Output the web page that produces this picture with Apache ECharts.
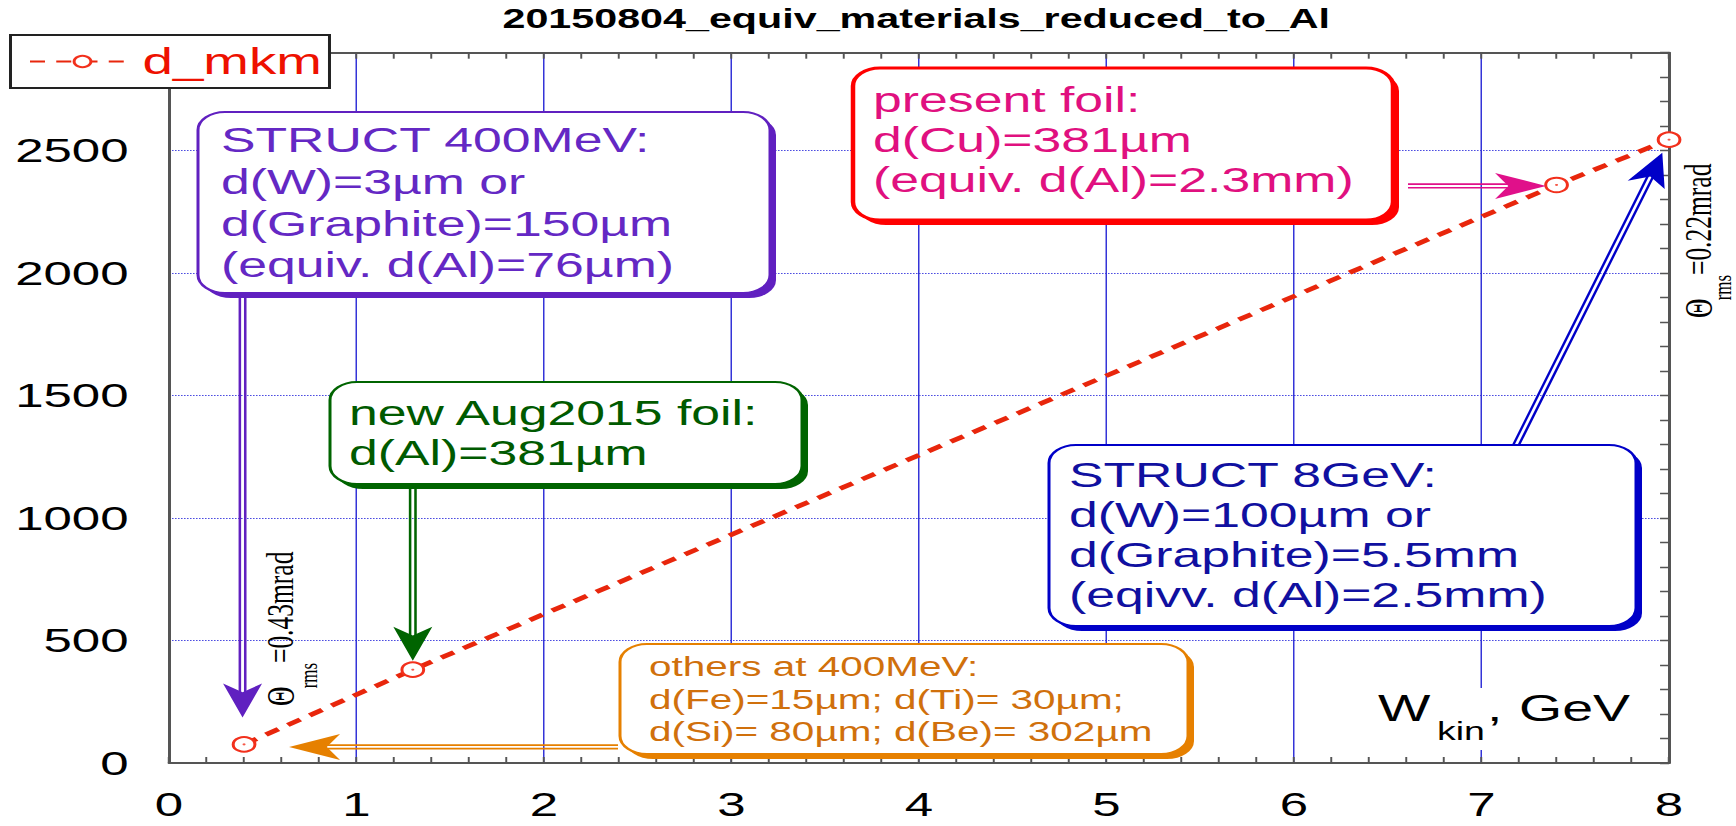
<!DOCTYPE html>
<html>
<head>
<meta charset="utf-8">
<title>20150804_equiv_materials_reduced_to_Al</title>
<script src="https://cdn.jsdelivr.net/npm/echarts@6/dist/echarts.min.js"></script>
<style>
    html, body { margin: 0; padding: 0; background: #fff; overflow: hidden; }
    #wrap { width: 1736px; height: 826px; overflow: hidden; }
    /* the source picture is stretched sideways: draw narrow, then stretch */
    #chart { width: 1157px; height: 826px; transform: scaleX(1.5); transform-origin: 0 0; }
</style>
</head>
<body>
<div id="wrap"><div id="chart"></div></div>
<script>
(function () {
    "use strict";
    var SX = 1.5;
    var FONT = "'Liberation Sans', Arial, sans-serif";
    var SERIF = "'Liberation Serif', 'Times New Roman', serif";

    // data
    var xLabels = ['0', '1', '2', '3', '4', '5', '6', '7', '8'];
    var yLabels = ['0', '500', '1000', '1500', '2000', '2500'];
    var wkin = [0.4, 1.3, 7.4, 8.0];
    var dMkm = [76, 381, 2360, 2545];

    var points = wkin.map(function (x, i) { return [x, dMkm[i]]; });

    var chart = echarts.init(document.getElementById('chart'), null, { renderer: 'svg' });
    var axisGrey = '#555';
    var option = {
        backgroundColor: '#fff',
        animation: false,
        title: {
            text: '20150804_equiv_materials_reduced_to_Al',
            left: 335, top: 4, padding: 0,
            textStyle: { fontSize: 27.5, fontWeight: 'bold', fontFamily: FONT, color: '#000' }
        },
        legend: {
            data: ['d_mkm'],
            left: 7, top: 35,
            padding: [8, 5, 8, 12],
            itemWidth: 70, itemHeight: 14,
            backgroundColor: '#fff',
            borderColor: '#222', borderWidth: 2, borderRadius: 0,
            textStyle: { color: '#ee1100', fontSize: 36.5, fontFamily: FONT }
        },
        grid: { left: 112.7, right: 44.3, top: 52.7, bottom: 63, outerBoundsMode: 'none' },
        xAxis: [{
            type: 'value', position: 'bottom', min: 0, max: 8, interval: 1,
            axisLine: { show: true, onZero: false, lineStyle: { color: axisGrey, width: 2 } },
            axisTick: { show: true, inside: true, length: 6, lineStyle: { color: axisGrey, width: 1.3 } },
            minorTick: { show: true, splitNumber: 5, length: 6, lineStyle: { color: axisGrey, width: 1.3 } },
            splitLine: { show: true, lineStyle: { color: '#3434d8', width: 1 } },
            axisLabel: {
                fontSize: 34, margin: 24, color: '#000', fontFamily: FONT,
                formatter: function (v) { return xLabels[Math.round(v)]; }
            }
        }, {
            type: 'value', position: 'top', min: 0, max: 8, interval: 1,
            axisLine: { show: true, onZero: false, lineStyle: { color: axisGrey, width: 2 } },
            axisTick: { show: true, inside: true, length: 6, lineStyle: { color: axisGrey, width: 1.3 } },
            minorTick: { show: true, splitNumber: 5, length: 6, lineStyle: { color: axisGrey, width: 1.3 } },
            splitLine: { show: false },
            axisLabel: { show: false }
        }],
        yAxis: [{
            type: 'value', position: 'left', min: 0, max: 2900, interval: 500,
            axisLine: { show: true, onZero: false, lineStyle: { color: axisGrey, width: 2 } },
            axisTick: { show: false },
            splitLine: { show: true, lineStyle: { type: 'dotted', color: '#4646e0', width: 1 } },
            axisLabel: {
                fontSize: 34, margin: 27, color: '#000', fontFamily: FONT, showMaxLabel: false,
                formatter: function (v) { return yLabels[v / 500] || ''; }
            }
        }, {
            type: 'value', position: 'right', min: 0, max: 2900, interval: 100,
            axisLine: { show: true, onZero: false, lineStyle: { color: axisGrey, width: 2 } },
            axisTick: { show: true, inside: true, length: 6, lineStyle: { color: axisGrey, width: 1.3 } },
            splitLine: { show: false },
            axisLabel: { show: false }
        }],
        series: [{
            name: 'd_mkm',
            type: 'line',
            data: points,
            symbol: 'emptyCircle',
            symbolSize: 14.5,
            lineStyle: { color: '#e8260c', width: 4.4, type: [10, 7.5] },
            itemStyle: { color: '#f2301c', borderWidth: 1.2 },
            z: 5
        }, {
            type: 'scatter',
            data: points,
            symbolSize: 2,
            itemStyle: { color: '#f2301c' },
            silent: true,
            z: 6
        }]
    };
    chart.setOption(option);

    // annotation boxes, in pixels of the stretched picture
    var notes = [
        { x: 198, y: 112, w: 572, h: 181, border: '#6020c0', fg: '#6428c4', lw: 2, tx: 221, ty: 119.2, size: 34.5, lh: 41.7,
          lines: ['STRUCT 400MeV:', 'd(W)=3µm or', 'd(Graphite)=150µm', '(equiv. d(Al)=76µm)'] },
        { x: 853, y: 68, w: 540, h: 152, border: '#ff0000', fg: '#e0107f', lw: 3, tx: 873, ty: 80, size: 34.5, lh: 40,
          lines: ['present foil:', 'd(Cu)=381µm', '(equiv. d(Al)=2.3mm)'] },
        { x: 330, y: 382, w: 472, h: 102, border: '#006400', fg: '#005a00', lw: 2, tx: 349, ty: 393.3, size: 34.5, lh: 40,
          lines: ['new Aug2015 foil:', 'd(Al)=381µm'] },
        { x: 1049, y: 445, w: 587, h: 181, border: '#0000c8', fg: '#1010a0', lw: 2, tx: 1069, ty: 455, size: 34.5, lh: 40,
          lines: ['STRUCT 8GeV:', 'd(W)=100µm or', 'd(Graphite)=5.5mm', '(eqivv. d(Al)=2.5mm)'] },
        { x: 620, y: 644, w: 568, h: 110, border: '#e68000', fg: '#d0700c', lw: 2, tx: 649, ty: 650.5, size: 27, lh: 32.5,
          lines: ['others at 400MeV:', 'd(Fe)=15µm; d(Ti)= 30µm;', 'd(Si)= 80µm; d(Be)= 302µm'] }
    ];

    function boxEls(b) {
        var x = b.x / SX, w = b.w / SX;
        return [
            { type: 'rect', z: 100, shape: { x: x + 4, y: b.y + 5, width: w, height: b.h, r: 18 },
              style: { fill: b.border } },
            { type: 'rect', z: 101, shape: { x: x, y: b.y, width: w, height: b.h, r: 18 },
              style: { fill: '#fff', stroke: b.border, lineWidth: b.lw } },
            { type: 'text', z: 102,
              style: { text: b.lines.join('\n'), x: b.tx / SX, y: b.ty, fill: b.fg, fontSize: b.size,
                       fontFamily: FONT, lineHeight: b.lh, align: 'left', verticalAlign: 'top' } }
        ];
    }

    function arrowEls(x1, y1, x2, y2, color) {
        var dx = x2 - x1, dy = y2 - y1, len = Math.sqrt(dx * dx + dy * dy);
        var ux = dx / len, uy = dy / len, nx = -uy, ny = ux;
        var L = 34, W = 26, off = 1.8;
        var ex = x2 - ux * L * 0.6, ey = y2 - uy * L * 0.6;
        var els = [];
        [-off, off].forEach(function (o) {
            els.push({ type: 'line', z: 103,
                shape: { x1: x1 + nx * o, y1: y1 + ny * o, x2: ex + nx * o, y2: ey + ny * o },
                style: { stroke: color, lineWidth: 1.7 } });
        });
        els.push({ type: 'polygon', z: 104, shape: { points: [
            [x2, y2],
            [x2 - ux * L + nx * W / 2, y2 - uy * L + ny * W / 2],
            [x2 - ux * L * 0.74, y2 - uy * L * 0.74],
            [x2 - ux * L - nx * W / 2, y2 - uy * L - ny * W / 2]
        ] }, style: { fill: color } });
        return els;
    }

    function textEl(t, x, y, size, family) {
        return { type: 'text', z: 105,
            style: { text: t, x: x, y: y, fill: '#000', fontSize: size, fontFamily: family,
                     align: 'left', verticalAlign: 'middle' } };
    }

    function thetaEl(x, y, value, sub) {
        return { type: 'group', x: x, y: y, rotation: Math.PI / 2, z: 105, children: [
            textEl('Θ', 0, 0, 27, SERIF),
            textEl('rms', 17.7, sub, 17, SERIF),
            textEl('=' + value + 'mrad', 43, 0, 25.5, SERIF)
        ] };
    }

    var px = points.map(function (p) { return chart.convertToPixel({ seriesIndex: 0 }, p); });

    var els = [];
    notes.forEach(function (b) { els = els.concat(boxEls(b)); });
    els = els.concat(arrowEls(px[0][0] - 1, 298, px[0][0] - 1, px[0][1] - 27, '#6020c0'));
    els = els.concat(arrowEls(px[1][0], 489, px[1][0], px[1][1] - 9, '#006400'));
    els = els.concat(arrowEls(1408 / SX, px[2][1] + 1, px[2][0] - 7, px[2][1] + 1, '#e0108a'));
    els = els.concat(arrowEls(1516 / SX, 445, px[3][0] - 4.5, px[3][1] + 13, '#0000c8'));
    els = els.concat(arrowEls(618 / SX, px[0][1] + 2.5, px[0][0] + 30, px[0][1] + 2.5, '#e68000'));

    els.push(thetaEl(280 / SX, 706, '0.43', 19));
    els.push(thetaEl(1698 / SX, 318, '0.22', 16.5));

    // x axis name, drawn inside the plot on a white patch
    els.push({ type: 'rect', z: 104, shape: { x: 1370 / SX, y: 688, width: 275 / SX, height: 62 }, style: { fill: '#fff' } });
    els.push(textEl('W', 1378 / SX, 708.5, 37, FONT));
    els.push(textEl('kin', 1437 / SX, 731, 25, FONT));
    els.push(textEl(',', 1487 / SX, 708.5, 37, FONT));
    els.push(textEl('GeV', 1519 / SX, 708.5, 37, FONT));

    chart.setOption({ graphic: { elements: els } });
})();
</script>
</body>
</html>
